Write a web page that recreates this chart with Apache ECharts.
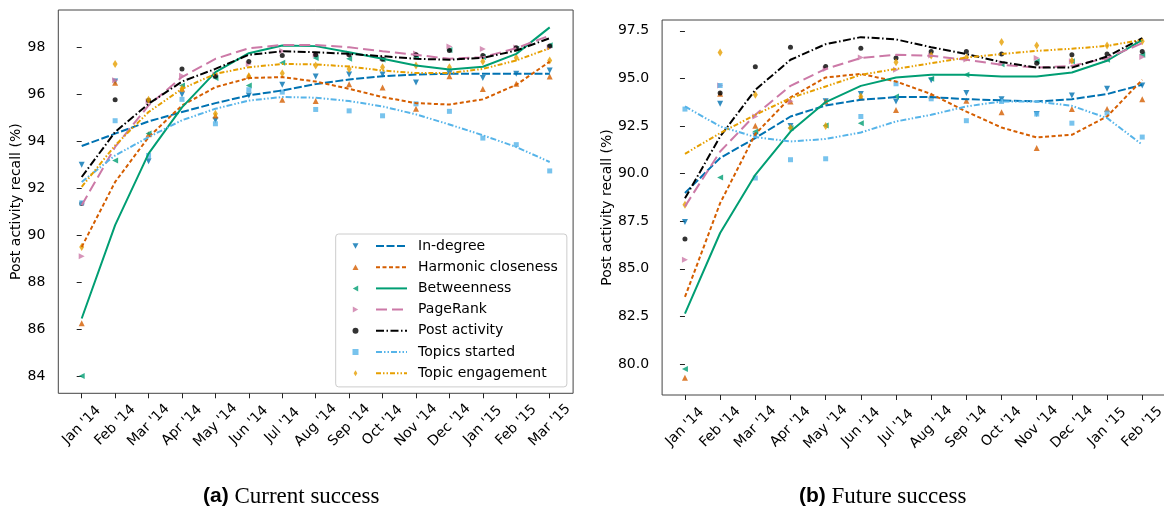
<!DOCTYPE html>
<html>
<head>
<meta charset="utf-8">
<script src="https://cdn.jsdelivr.net/npm/echarts@6/dist/echarts.min.js"></script>
<style>html,body{margin:0;padding:0;background:#fff;}#c{width:1164px;height:510px;}</style>
</head>
<body>
<div id="c"></div>
<script>
// ---------- categories / tick labels ----------
const monthsCur = ["Jan '14","Feb '14","Mar '14","Apr '14","May '14","Jun '14","Jul '14","Aug '14","Sep '14","Oct '14","Nov '14","Dec '14","Jan '15","Feb '15","Mar '15"];
const monthsFut = ["Jan '14","Feb '14","Mar '14","Apr '14","May '14","Jun '14","Jul '14","Aug '14","Sep '14","Oct '14","Nov '14","Dec '14","Jan '15","Feb '15"];
const metricNames = ['In-degree','Harmonic closeness','Betweenness','PageRank','Post activity','Topics started','Topic engagement'];
const curYTicks = [84, 86, 88, 90, 92, 94, 96, 98];
const futYTicks = [80, 82.5, 85, 87.5, 90, 92.5, 95, 97.5];
const yLabel = 'Post activity recall (%)';

// ---------- (a) Current success ----------
const curInDegreePts      = [93.0, 96.55, 93.15, 96.0, 94.9, 95.96, 96.41, 96.77, 96.85, 96.85, 96.51, 96.9, 96.7, 96.88, 97.02];
const curInDegreeFit      = [93.8, 94.33, 94.85, 95.25, 95.63, 95.96, 96.17, 96.44, 96.64, 96.78, 96.85, 96.88, 96.88, 96.88, 96.88];
const curHarmonicPts      = [86.25, 96.5, 94.3, 96.24, 95.1, 96.8, 95.77, 95.72, 96.43, 96.3, 95.39, 96.78, 96.23, 96.46, 96.77];
const curHarmonicFit      = [89.5, 92.27, 94.18, 95.53, 96.31, 96.7, 96.74, 96.55, 96.24, 95.89, 95.63, 95.57, 95.79, 96.41, 97.4];
const curBetweennessPts   = [84.0, 93.18, 94.33, 96.38, 96.7, 96.38, 97.35, 97.55, 97.52, 97.49, 97.6, 97.9, 97.6, 97.95, 98.1];
const curBetweennessFit   = [86.45, 90.43, 93.48, 95.45, 96.95, 97.76, 98.09, 98.06, 97.8, 97.52, 97.23, 97.06, 97.18, 97.73, 98.86];
const curPageRankPts      = [89.1, 96.6, 95.7, 96.8, 96.85, 97.3, 97.85, 97.7, 97.75, 97.55, 97.75, 98.04, 97.94, 98.0, 98.0];
const curPageRankFit      = [91.28, 93.76, 95.53, 96.74, 97.52, 97.97, 98.11, 98.11, 98.01, 97.84, 97.69, 97.52, 97.59, 97.97, 98.51];
const curPostPts          = [91.35, 95.77, 95.75, 97.09, 96.78, 97.4, 97.66, 97.69, 97.69, 97.5, 97.69, 97.87, 97.66, 97.99, 98.06];
const curPostFit          = [92.48, 94.4, 95.6, 96.55, 97.09, 97.69, 97.84, 97.8, 97.73, 97.63, 97.52, 97.48, 97.56, 97.87, 98.4];
const curTopicsStartedPts = [91.38, 94.88, 93.4, 95.79, 94.75, 96.2, 96.1, 95.36, 95.3, 95.09, 95.6, 95.28, 94.14, 93.86, 92.74];
const curTopicsStartedFit = [92.27, 93.4, 94.18, 94.9, 95.39, 95.74, 95.89, 95.86, 95.72, 95.49, 95.15, 94.72, 94.26, 93.76, 93.12];
const curTopicEngPts      = [89.5, 97.3, 95.77, 96.24, 95.18, 96.78, 96.9, 97.23, 97.09, 97.16, 97.23, 97.16, 97.4, 97.56, 97.45];
const curTopicEngFit      = [92.06, 93.83, 95.25, 96.24, 96.88, 97.16, 97.3, 97.28, 97.19, 97.02, 96.91, 96.91, 97.09, 97.45, 97.97];

// ---------- (b) Future success ----------
const futInDegreePts      = [87.46, 93.67, 92.0, 92.5, 93.8, 94.18, 93.79, 94.9, 94.23, 93.91, 93.13, 94.1, 94.46, 94.63];
const futInDegreeFit      = [88.98, 90.82, 91.87, 93.0, 93.58, 93.88, 94.02, 94.02, 93.91, 93.85, 93.79, 93.91, 94.18, 94.67];
const futHarmonicPts      = [79.27, 94.2, 92.51, 93.79, 93.79, 94.0, 93.34, 94.1, 93.83, 93.23, 91.34, 93.39, 93.39, 93.91];
const futHarmonicFit      = [83.52, 88.45, 92.08, 94.0, 95.05, 95.24, 94.84, 94.18, 93.26, 92.42, 91.9, 92.04, 93.0, 94.93];
const futBetweennessPts   = [79.74, 89.8, 92.21, 92.4, 92.53, 92.65, 94.05, 94.98, 95.19, 95.75, 95.9, 95.9, 95.98, 96.24];
const futBetweennessFit   = [82.64, 86.88, 89.94, 92.21, 93.76, 94.61, 95.05, 95.19, 95.19, 95.1, 95.1, 95.31, 95.93, 97.03];
const futPageRankPts      = [85.48, 94.63, 93.0, 93.8, 95.5, 96.1, 95.45, 96.2, 96.0, 95.8, 96.07, 95.9, 96.0, 96.12];
const futPageRankFit      = [88.28, 91.16, 93.09, 94.61, 95.5, 96.07, 96.24, 96.19, 95.98, 95.72, 95.57, 95.66, 96.07, 96.85];
const futPostPts          = [86.57, 94.23, 95.61, 96.64, 95.63, 96.59, 96.07, 96.41, 96.41, 96.28, 95.8, 96.24, 96.28, 96.41];
const futPostFit          = [88.7, 91.95, 94.4, 95.98, 96.8, 97.17, 97.05, 96.64, 96.28, 95.86, 95.57, 95.57, 96.15, 97.12];
const futTopicsStartedPts = [93.39, 94.63, 89.77, 90.73, 90.78, 93.0, 94.72, 93.93, 92.78, 93.79, 93.13, 92.65, 93.18, 91.92];
const futTopicsStartedFit = [93.53, 92.48, 91.92, 91.69, 91.82, 92.16, 92.74, 93.09, 93.53, 93.79, 93.79, 93.56, 92.92, 91.52];
const futTopicEngPts      = [88.37, 96.36, 94.14, 92.39, 92.5, 94.05, 95.85, 96.2, 96.1, 96.91, 96.73, 95.93, 96.73, 96.95];
const futTopicEngFit      = [91.04, 92.13, 93.09, 93.97, 94.58, 95.19, 95.5, 95.8, 96.1, 96.28, 96.45, 96.56, 96.71, 97.03];

// ---------- styling ----------
const colors  = ['#0072B2', '#D55E00', '#009E73', '#CC79A7', '#000000', '#56B4E9', '#E69F00'];
const symbols = ['triangle', 'triangle', 'triangle', 'triangle', 'circle', 'rect', 'diamond'];
const rotates = [180, 0, 90, -90, 0, 0, 0];
const sizes   = [6, 6, 6, 6, 5, 5, [5, 8]];
const legendIcons = [
  'path://M0,0L10,0L5,9Z',
  'path://M5,0L10,9L0,9Z',
  'path://M9,0L9,10L0,5Z',
  'path://M0,0L0,10L9,5Z',
  'circle',
  'rect',
  'path://M3,0L6,5L3,10L0,5Z'
];
const dashes  = [[8, 2.5], [4, 2.5], 'solid', [11, 5], [8, 2.5, 1.5, 2.5], [6, 2, 1.5, 2, 1.5, 2], [5, 2, 1.5, 2, 1.5, 2]];
const FONT = 'DejaVu Sans';

const curPts = [curInDegreePts, curHarmonicPts, curBetweennessPts, curPageRankPts, curPostPts, curTopicsStartedPts, curTopicEngPts];
const curFit = [curInDegreeFit, curHarmonicFit, curBetweennessFit, curPageRankFit, curPostFit, curTopicsStartedFit, curTopicEngFit];
const futPts = [futInDegreePts, futHarmonicPts, futBetweennessPts, futPageRankPts, futPostPts, futTopicsStartedPts, futTopicEngPts];
const futFit = [futInDegreeFit, futHarmonicFit, futBetweennessFit, futPageRankFit, futPostFit, futTopicsStartedFit, futTopicEngFit];

function xAxisDef(gi, labels, pad) {
  const idx = labels.map((_, i) => i);
  return {
    type: 'value', gridIndex: gi, min: -pad, max: labels.length - 1 + pad,
    splitLine: { show: false }, axisLine: { show: false },
    axisTick: { show: true, length: 5, lineStyle: { color: '#222', width: 1 }, customValues: idx },
    axisLabel: { show: true, customValues: idx, formatter: v => labels[Math.round(v)], rotate: 45,
      align: 'center', verticalAlign: 'middle', margin: 32, fontSize: 14, color: '#000', fontFamily: FONT, hideOverlap: false }
  };
}
function yAxisDef(gi, min, max, ticks, fmt, gap) {
  return {
    type: 'value', gridIndex: gi, min: min, max: max,
    splitLine: { show: false }, axisLine: { show: false },
    axisTick: { show: true, length: 5, lineStyle: { color: '#222', width: 1 }, customValues: ticks },
    axisLabel: { show: true, customValues: ticks, formatter: fmt, margin: 13, fontSize: 14, color: '#000', fontFamily: FONT, hideOverlap: false },
    name: yLabel, nameLocation: 'middle', nameRotate: 90, nameGap: gap,
    nameTextStyle: { fontSize: 14, color: '#000', fontFamily: FONT }
  };
}

const series = [];
function addPanel(p, pts, fit) {
  for (let m = 0; m < metricNames.length; m++) {
    series.push({
      type: 'scatter', name: 'pts-' + metricNames[m], xAxisIndex: p, yAxisIndex: p,
      data: pts[m].map((v, i) => [i, v]), symbol: symbols[m], symbolRotate: rotates[m], symbolSize: sizes[m],
      itemStyle: { color: colors[m] }, silent: true, z: 2
    });
  }
  for (let m = 0; m < metricNames.length; m++) {
    series.push({
      type: 'line', name: metricNames[m], xAxisIndex: p, yAxisIndex: p,
      data: fit[m].map((v, i) => [i, v]), symbol: 'none', showSymbol: false, smooth: false,
      lineStyle: { color: colors[m], width: 2, type: dashes[m] }, itemStyle: { color: colors[m] },
      silent: true, z: 3
    });
  }
}
addPanel(0, curPts, curFit);
addPanel(1, futPts, futFit);

const titleStyle = {
  fontFamily: 'Liberation Serif', fontSize: 23, fontWeight: 'normal', color: '#000',
  rich: {
    a: { fontFamily: 'Liberation Sans', fontWeight: 'bold', fontSize: 21, color: '#000' },
    b: { fontFamily: 'Liberation Serif', fontWeight: 'normal', fontSize: 23, color: '#000' }
  }
};

const option = {
  animation: false,
  backgroundColor: '#ffffff',
  textStyle: { fontFamily: FONT },
  title: [
    { text: '{a|(a)} {b|Current success}', left: 198, top: 480, textStyle: titleStyle },
    { text: '{a|(b)} {b|Future success}', left: 794, top: 480, textStyle: titleStyle }
  ],
  grid: [
    { left: 58.3, top: 10, width: 514.8, height: 383.3, show: true, borderColor: '#444', borderWidth: 1, backgroundColor: 'transparent', containLabel: false, outerBoundsMode: 'none' },
    { left: 662.1, top: 20, width: 503, height: 375, show: true, borderColor: '#444', borderWidth: 1, backgroundColor: 'transparent', containLabel: false, outerBoundsMode: 'none' }
  ],
  xAxis: [ xAxisDef(0, monthsCur, 0.7), xAxisDef(1, monthsFut, 0.65) ],
  yAxis: [
    yAxisDef(0, 83.26, 99.6, curYTicks, v => String(v), 35),
    yAxisDef(1, 78.37, 98.07, futYTicks, v => v.toFixed(1), 47)
  ],
  legend: [
    { data: metricNames, orient: 'vertical', left: 335.7, top: 234, padding: [5, 9, 6.7, 39.3],
      itemWidth: 31, itemHeight: 14, itemGap: 7.2, selectedMode: false,
      itemStyle: { opacity: 0 }, lineStyle: { opacity: 1 },
      backgroundColor: 'rgba(255,255,255,0.85)', borderColor: '#cccccc', borderWidth: 1, borderRadius: 3,
      textStyle: { fontSize: 14, lineHeight: 14, color: '#000', fontFamily: FONT, padding: [0, 0, 0, 6] }, z: 9 },
    { data: metricNames.map((n, i) => ({ name: 'pts-' + n, icon: legendIcons[i] })), orient: 'vertical', left: 352.5, top: 239, padding: 0,
      itemWidth: 6, itemHeight: 6, itemGap: 7.2, selectedMode: false, formatter: () => ' ',
      textStyle: { fontSize: 14, lineHeight: 14, color: '#000', fontFamily: FONT }, z: 10 }
  ],
  series: series
};
const chart = echarts.init(document.getElementById('c'), null, { renderer: 'canvas', width: 1164, height: 510 });
chart.setOption(option);
</script>
</body>
</html>
